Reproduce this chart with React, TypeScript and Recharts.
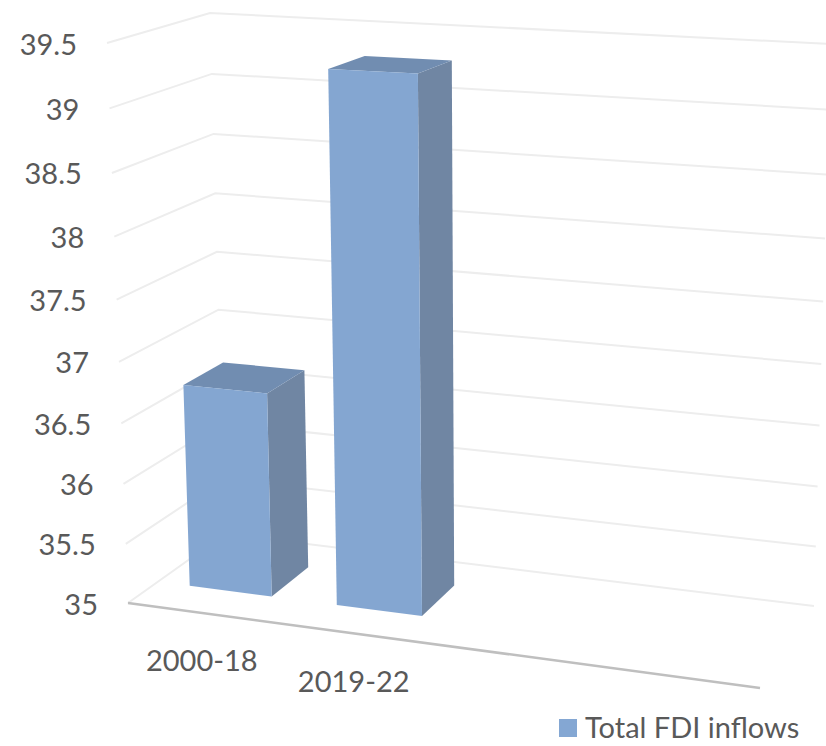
import { Bar, BarChart, CartesianGrid, Legend, XAxis, YAxis } from "recharts";

const categories = ["2000-18", "2019-22", "", ""];
const fdiInflows = [36.7, 39.3, null, null];
const valueTicks = [35, 35.5, 36, 36.5, 37, 37.5, 38, 38.5, 39, 39.5];
const seriesName = "Total FDI inflows";

const chartData = categories.map((category, i) => ({ category, value: fdiInflows[i] }));

const WIDTH = 826;
const HEIGHT = 746;
const PLOT = { left: 80, top: 20, width: 726, height: 666 };
const TEXT = "#595959";
const FONT = "Lato, sans-serif";
const FONT_SIZE = 29;

type Pt = [number, number];

// corners of the 3D box on screen, [u, value, depth]
const box: Record<string, Pt> = {
  "000": [128, 603],
  "100": [760, 688],
  "001": [225, 534],
  "101": [814, 606],
  "010": [107, 43],
  "110": [775, 74],
  "011": [210, 13],
  "111": [831, 44],
};

const warp = (t: number, c: number) => t / (t + (1 - t) * c);

function project(u: number, v: number, d: number): Pt {
  const uu = warp(u, 1.08);
  const vv = warp(v, 1.058);
  const out: Pt = [0, 0];
  for (const a of [0, 1]) {
    for (const b of [0, 1]) {
      for (const c of [0, 1]) {
        const w = (a ? uu : 1 - uu) * (b ? vv : 1 - vv) * (c ? d : 1 - d);
        const p = box[`${a}${b}${c}`];
        out[0] += w * p[0];
        out[1] += w * p[1];
      }
    }
  }
  return out;
}

const toU = (x: number) => (x - PLOT.left) / PLOT.width;
const toV = (y: number) => (PLOT.top + PLOT.height - y) / PLOT.height;
const path = (pts: Pt[]) => pts.map((p) => `${p[0].toFixed(1)},${p[1].toFixed(1)}`).join(" ");

const BAR_FRONT = 0.31;
const BAR_BACK = 0.72;

function Bar3D({ x, y, width, height }: any) {
  if (!height || !Number.isFinite(height)) return null;
  const u0 = toU(x);
  const u1 = toU(x + width);
  const top = toV(y);
  const bottom = toV(y + height);
  const f = BAR_FRONT;
  const b = BAR_BACK;
  return (
    <g>
      <polygon
        points={path([project(u1, bottom, f), project(u1, bottom, b), project(u1, top, b), project(u1, top, f)])}
        fill="#6A819F"
        fillOpacity={0.96}
      />
      <polygon
        points={path([project(u0, top, f), project(u1, top, f), project(u1, top, b), project(u0, top, b)])}
        fill="#6E8BAF"
        fillOpacity={0.98}
      />
      <polygon
        points={path([project(u0, bottom, f), project(u1, bottom, f), project(u1, top, f), project(u0, top, f)])}
        fill="#7FA2CF"
        fillOpacity={0.96}
      />
    </g>
  );
}

function WallLine({ y1 }: any) {
  const v = toV(y1);
  return (
    <polyline
      points={path([project(0, v, 0), project(0, v, 1), project(1, v, 1)])}
      fill="none"
      stroke="#EDEDED"
      strokeWidth={2}
    />
  );
}

function ValueTick({ y, payload }: any) {
  const corner = project(0, toV(y), 0);
  return (
    <text
      x={corner[0] - 30}
      y={corner[1]}
      textAnchor="end"
      dominantBaseline="central"
      fill={TEXT}
      fontFamily={FONT}
      fontSize={FONT_SIZE}
    >
      {String(payload.value)}
    </text>
  );
}

function CategoryTick({ x, payload, index }: any) {
  const p = project(toU(x), 0, 0);
  return (
    <g>
      {index === 0 && (
        <polyline
          points={path([project(0, 0, 0), project(1, 0, 0)])}
          fill="none"
          stroke="#BFBFBF"
          strokeWidth={2.5}
        />
      )}
      {payload.value && (
        <text
          x={p[0]}
          y={p[1] + 47}
          textAnchor="middle"
          dominantBaseline="central"
          fill={TEXT}
          fontFamily={FONT}
          fontSize={FONT_SIZE}
        >
          {payload.value}
        </text>
      )}
    </g>
  );
}

function LegendRow({ payload }: any) {
  return (
    <div style={{ display: "flex", alignItems: "center" }}>
      {(payload ?? []).map((entry: any) => (
        <div key={entry.value} style={{ display: "flex", alignItems: "center" }}>
          <div style={{ width: 18, height: 18, background: entry.color, marginRight: 8, marginTop: 1 }} />
          <span style={{ color: TEXT, fontFamily: FONT, fontSize: FONT_SIZE, lineHeight: "36px" }}>{entry.value}</span>
        </div>
      ))}
    </div>
  );
}

export default function App() {
  return (
    <div style={{ position: "absolute", left: 0, top: 0, width: WIDTH, height: HEIGHT, background: "#fff" }}>
      <BarChart
        width={WIDTH}
        height={HEIGHT}
        data={chartData}
        margin={{ top: 20, right: 20, bottom: 0, left: 0 }}
        barCategoryGap="22%"
      >
        <CartesianGrid vertical={false} horizontal={<WallLine />} />
        <XAxis
          dataKey="category"
          height={60}
          axisLine={false}
          tickLine={false}
          interval={0}
          tick={<CategoryTick />}
        />
        <YAxis
          width={80}
          domain={[35, 39.5]}
          ticks={valueTicks}
          interval={0}
          axisLine={false}
          tickLine={false}
          tick={<ValueTick />}
        />
        <Legend
          verticalAlign="middle"
          align="center"
          layout="horizontal"
          wrapperStyle={{ position: "absolute", left: 559, top: 709, width: 262, height: 36 }}
          content={<LegendRow />}
        />
        <Bar
          dataKey="value"
          name={seriesName}
          fill="#84A7D3"
          shape={<Bar3D />}
          isAnimationActive={false}
        />
      </BarChart>
    </div>
  );
}
